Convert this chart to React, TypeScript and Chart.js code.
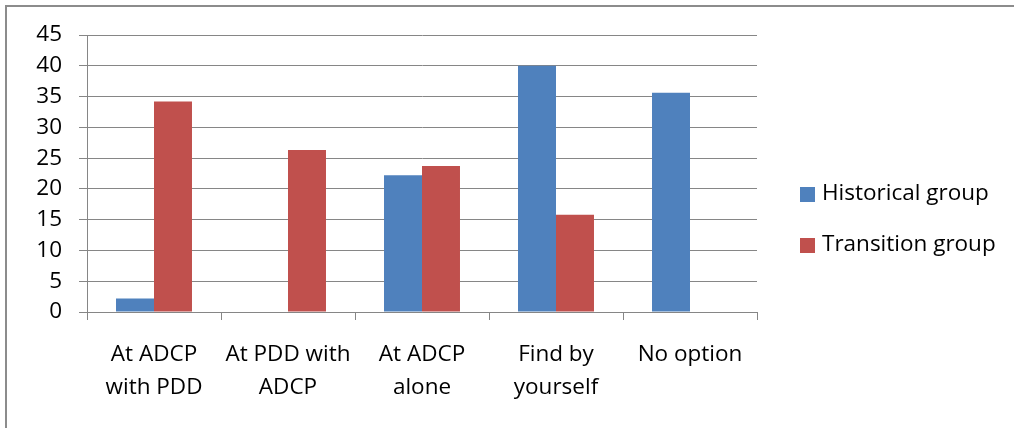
import React, { useEffect, useRef } from "react";
import { Chart, registerables } from "chart.js";

Chart.register(...registerables);

const categories: (string | string[])[] = [
  ["At ADCP", "with PDD"],
  ["At PDD with", "ADCP"],
  ["At ADCP", "alone"],
  ["Find by", "yourself"],
  "No option",
];
const historicalGroup = [2.2, 0, 22.2, 40, 35.6];
const transitionGroup = [34.2, 26.3, 23.7, 15.8, 0];
const seriesNames = ["Historical group", "Transition group"];
const seriesColors = ["#4F81BD", "#C0504D"];

const FONT = "'Open Sans', 'Noto Sans', sans-serif";
const FONT_SIZE = 22.5;
const GRID = "#868686";

// Frame lines along the top and left of the canvas, plus a legend on the right.
const framePlugin = {
  id: "frame",
  beforeDraw(chart: Chart) {
    const ctx = chart.ctx;
    ctx.save();
    ctx.fillStyle = "#8c8c8c";
    ctx.fillRect(5, 5, chart.width - 5, 2);
    ctx.fillRect(5, 5, 2, chart.height - 5);
    ctx.restore();
  },
  afterDraw(chart: Chart) {
    const ctx = chart.ctx;
    ctx.save();
    ctx.font = `${FONT_SIZE}px ${FONT}`;
    ctx.textBaseline = "middle";
    ctx.textAlign = "left";
    const top = [187, 238];
    chart.data.datasets.forEach((ds, i) => {
      ctx.fillStyle = ds.backgroundColor as string;
      ctx.fillRect(800, top[i], 15, 15);
      ctx.fillStyle = "#000";
      ctx.fillText(ds.label as string, 822, top[i] + 7);
    });
    ctx.restore();
  },
};

export default function App() {
  const canvasRef = useRef<HTMLCanvasElement | null>(null);

  useEffect(() => {
    if (!canvasRef.current) return;
    const chart = new Chart(canvasRef.current, {
      type: "bar",
      data: {
        labels: categories,
        datasets: [
          {
            label: seriesNames[0],
            data: historicalGroup,
            backgroundColor: seriesColors[0],
            borderWidth: 0,
          },
          {
            label: seriesNames[1],
            data: transitionGroup,
            backgroundColor: seriesColors[1],
            borderWidth: 0,
          },
        ],
      },
      options: {
        animation: false,
        responsive: true,
        maintainAspectRatio: false,
        layout: { padding: { left: 0, top: 35, right: 257, bottom: 0 } },
        plugins: {
          legend: { display: false },
          tooltip: { enabled: false },
        },
        datasets: {
          bar: { categoryPercentage: 0.567, barPercentage: 1 },
        },
        scales: {
          x: {
            grid: {
              display: true,
              drawOnChartArea: false,
              tickLength: 8,
              color: GRID,
            },
            border: { color: GRID },
            ticks: {
              color: "#000",
              font: { family: FONT, size: FONT_SIZE, lineHeight: 1.43 },
              padding: 19,
              maxRotation: 0,
              autoSkip: false,
            },
            afterFit(scale: any) {
              scale.height = 116;
            },
          },
          y: {
            min: 0,
            max: 45,
            grid: { color: GRID, tickLength: 8 },
            border: { color: GRID },
            ticks: {
              stepSize: 5,
              color: "#000",
              font: { family: FONT, size: FONT_SIZE },
              padding: 17,
            },
            afterFit(scale: any) {
              scale.width = 87;
            },
          },
        },
      },
      plugins: [framePlugin],
    });
    return () => chart.destroy();
  }, []);

  return (
    <div
      style={{
        position: "fixed",
        left: 0,
        top: 0,
        width: 1014,
        height: 428,
        background: "#fff",
      }}
    >
      <canvas ref={canvasRef} />
    </div>
  );
}
